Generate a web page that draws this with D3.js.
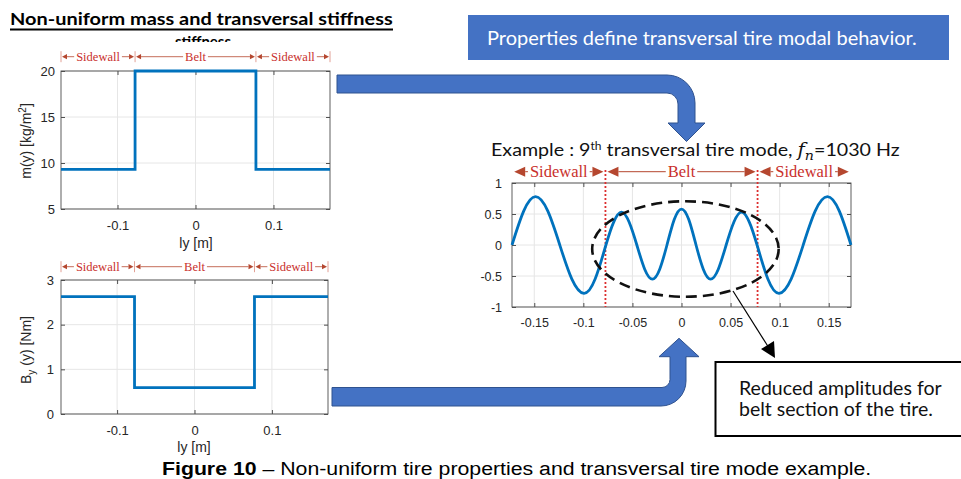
<!DOCTYPE html>
<html>
<head>
<meta charset="utf-8">
<script src="https://cdn.jsdelivr.net/npm/d3@7"></script>
<style>
  body { margin: 0; background: #fff; }
  svg { display: block; }
</style>
</head>
<body>
<svg id="fig" width="961" height="479"></svg>
<script>
// ---- Data -------------------------------------------------------------
// Lateral positions [m] of the section boundaries across the tire width
const sectionEdges = [-0.1725, -0.0775, 0.0775, 0.1725];
const sectionNames = ["Sidewall", "Belt", "Sidewall"];

// Mass per unit area m(y) [kg/m^2] per section
const massValues = [9.3, 20, 9.3];
// Transversal bending stiffness B_y(y) [Nm] per section
const stiffnessValues = [2.63, 0.59, 2.63];

const massTicks = [5, 10, 15, 20];
const stiffnessTicks = [0, 1, 2, 3];
const propertyXTicks = [-0.1, 0, 0.1];

// 9th transversal mode shape (normalized), sampled across the width
const modeX = [
  -0.1727, -0.1607, -0.1487, -0.1363, -0.1240, -0.1117, -0.0994, -0.0880,
  -0.0770, -0.0691, -0.0612, -0.0534, -0.0455, -0.0375, -0.0296, -0.0222,
  -0.0148, -0.0074, 0.0, 0.0074, 0.0148, 0.0222, 0.0296, 0.0375, 0.0455,
  0.0534, 0.0612, 0.0691, 0.0770, 0.0880, 0.0994, 0.1117, 0.1240, 0.1363,
  0.1487, 0.1607, 0.1727
];
const modeY = [
  0.0, 0.55, 0.78, 0.55, 0.0, -0.55, -0.78, -0.55,
  0.0, 0.37, 0.53, 0.37, 0.0, -0.39, -0.55, -0.39,
  0.0, 0.41, 0.58, 0.41, 0.0, -0.39, -0.55, -0.39, 0.0,
  0.37, 0.53, 0.37, 0.0, -0.55, -0.78, -0.55, 0.0, 0.55,
  0.78, 0.55, 0.0
];
const modeXTicks = [-0.15, -0.1, -0.05, 0, 0.05, 0.1, 0.15];
const modeYTicks = [-1, -0.5, 0, 0.5, 1];

// ---- Styling ----------------------------------------------------------
const SANS = "'Liberation Sans', Arial, sans-serif";
const SERIF = "'Liberation Serif', 'Times New Roman', serif";
const BODY = "Lato, 'Open Sans', sans-serif";
const LINE_BLUE = "#0072BD";
const AXIS_INK = "#262626";
const GRID = "#e6e6e6";
const NOTE_LINE = "#b5472f";
const NOTE_TEXT = "#c9302c";
const SHAPE_FILL = "#4472C4";
const SHAPE_EDGE = "#2F528F";

const svg = d3.select("#fig");

// Squeeze/stretch a text block horizontally so it spans a given width
function fitWidth(sel, x0, target) {
  const w = sel.node().getBBox().width;
  sel.attr("transform", `translate(${x0},0) scale(${target / w},1) translate(${-x0},0)`);
}

// MATLAB-style boxed axes with inward ticks on all four sides
function drawAxes(g, x, y, xTicks, yTicks, o) {
  const [x0, x1] = x.range();
  const [y0, y1] = y.range();
  const fmt = d => String(d);

  g.append("g").selectAll("line").data(xTicks).join("line")
    .attr("x1", d => x(d)).attr("x2", d => x(d))
    .attr("y1", y1).attr("y2", y0)
    .attr("stroke", GRID).attr("stroke-width", 1);
  g.append("g").selectAll("line").data(yTicks).join("line")
    .attr("x1", x0).attr("x2", x1)
    .attr("y1", d => y(d)).attr("y2", d => y(d))
    .attr("stroke", GRID).attr("stroke-width", 1);

  const style = a => {
    a.select(".domain").remove();
    a.attr("font-size", o.fontSize).attr("font-family", SANS);
    a.selectAll("line").attr("stroke", AXIS_INK).attr("stroke-width", 0.8);
    a.selectAll("text").attr("fill", AXIS_INK);
  };

  g.append("g").attr("transform", `translate(0,${y0})`)
    .call(d3.axisBottom(x).tickValues(xTicks).tickSizeInner(-4).tickSizeOuter(0)
      .tickPadding(o.xPad).tickFormat(fmt))
    .call(style);
  g.append("g").attr("transform", `translate(0,${y1})`)
    .call(d3.axisTop(x).tickValues(xTicks).tickSizeInner(-4).tickSizeOuter(0).tickFormat(""))
    .call(style);
  g.append("g").attr("transform", `translate(${x0},0)`)
    .call(d3.axisLeft(y).tickValues(yTicks).tickSizeInner(-4).tickSizeOuter(0)
      .tickPadding(o.yPad).tickFormat(fmt))
    .call(style);
  g.append("g").attr("transform", `translate(${x1},0)`)
    .call(d3.axisRight(y).tickValues(yTicks).tickSizeInner(-4).tickSizeOuter(0).tickFormat(""))
    .call(style);

  g.append("rect")
    .attr("x", x0).attr("y", y1).attr("width", x1 - x0).attr("height", y0 - y1)
    .attr("fill", "none").attr("stroke", "#4d4d4d").attr("stroke-width", 0.9);
}

// Sidewall / Belt span markers above a plot
function drawSections(g, x, yLine, o) {
  sectionNames.forEach((name, i) => {
    const a = x(sectionEdges[i]) + o.gap;
    const b = x(sectionEdges[i + 1]) - o.gap;
    const mid = (a + b) / 2;
    const t = g.append("text")
      .attr("x", mid).attr("y", yLine + o.baseOff)
      .attr("text-anchor", "middle")
      .attr("font-family", SERIF).attr("font-size", o.fontSize)
      .attr("fill", NOTE_TEXT).text(name);
    const w = t.node().getComputedTextLength();
    g.append("line")
      .attr("x1", a + o.head).attr("x2", mid - w / 2 - o.pad)
      .attr("y1", yLine).attr("y2", yLine)
      .attr("stroke", NOTE_LINE).attr("stroke-width", o.lw);
    g.append("line")
      .attr("x1", mid + w / 2 + o.pad).attr("x2", b - o.head)
      .attr("y1", yLine).attr("y2", yLine)
      .attr("stroke", NOTE_LINE).attr("stroke-width", o.lw);
    g.append("path")
      .attr("d", `M${a},${yLine}L${a + o.head},${yLine - o.half}L${a + o.head},${yLine + o.half}Z`)
      .attr("fill", NOTE_LINE);
    g.append("path")
      .attr("d", `M${b},${yLine}L${b - o.head},${yLine - o.half}L${b - o.head},${yLine + o.half}Z`)
      .attr("fill", NOTE_LINE);
  });
  if (o.bars) {
    g.append("g").selectAll("line").data(sectionEdges).join("line")
      .attr("x1", d => x(d)).attr("x2", d => x(d))
      .attr("y1", yLine - 5.5).attr("y2", yLine + 5.5)
      .attr("stroke", "#e2a095").attr("stroke-width", 1);
  }
}

function stepPoints(values) {
  const pts = values.map((v, i) => [sectionEdges[i], v]);
  pts.push([sectionEdges[sectionEdges.length - 1], values[values.length - 1]]);
  return pts;
}

// ---- Heading ----------------------------------------------------------
const title = svg.append("text")
  .attr("x", 10).attr("y", 25)
  .attr("font-family", BODY).attr("font-weight", 700).attr("font-size", 17)
  .attr("fill", "#000").text("Non-uniform mass and transversal stiffness");
fitWidth(title, 10, 383);
svg.append("line").attr("x1", 10).attr("x2", 393).attr("y1", 29.5).attr("y2", 29.5)
  .attr("stroke", "#000").attr("stroke-width", 1.8);

// second heading line, mostly covered by the panel annotations
svg.append("clipPath").attr("id", "headClip")
  .append("rect").attr("x", 150).attr("y", 35.5).attr("width", 120).attr("height", 6.5);
svg.append("text")
  .attr("clip-path", "url(#headClip)")
  .attr("x", 203).attr("y", 46.5).attr("text-anchor", "middle")
  .attr("font-family", BODY).attr("font-weight", 700).attr("font-size", 15)
  .attr("fill", "#000").text("stiffness");

// ---- Mass panel -------------------------------------------------------
const xMass = d3.scaleLinear().domain([-0.1725, 0.1725]).range([61, 330]);
const yMass = d3.scaleLinear().domain([5, 20]).range([209, 71]);
const gMass = svg.append("g");
drawAxes(gMass, xMass, yMass, propertyXTicks, massTicks, { fontSize: 13, xPad: 12, yPad: 6 });
gMass.append("path")
  .datum(stepPoints(massValues))
  .attr("d", d3.line().x(d => xMass(d[0])).y(d => yMass(d[1])).curve(d3.curveStepAfter))
  .attr("fill", "none").attr("stroke", LINE_BLUE).attr("stroke-width", 2.8);
drawSections(gMass, xMass, 56.7, { fontSize: 12.5, baseOff: 4, head: 5, half: 2.6, gap: 1, pad: 2, lw: 0.8, bars: true });
gMass.append("text").attr("x", 196).attr("y", 247.5).attr("text-anchor", "middle")
  .attr("font-family", SANS).attr("font-size", 14).attr("fill", AXIS_INK).text("ly [m]");
const mLabel = gMass.append("text")
  .attr("transform", "translate(31,141) rotate(-90)")
  .attr("text-anchor", "middle")
  .attr("font-family", SANS).attr("font-size", 14).attr("fill", AXIS_INK);
mLabel.append("tspan").text("m(y) [kg/m");
mLabel.append("tspan").attr("dy", -5).attr("font-size", 10).text("2");
mLabel.append("tspan").attr("dy", 5).text("]");

// ---- Stiffness panel --------------------------------------------------
const xStiff = d3.scaleLinear().domain([-0.1725, 0.1725]).range([61, 328]);
const yStiff = d3.scaleLinear().domain([0, 3]).range([414, 280]);
const gStiff = svg.append("g");
drawAxes(gStiff, xStiff, yStiff, propertyXTicks, stiffnessTicks, { fontSize: 13, xPad: 11.5, yPad: 7 });
gStiff.append("path")
  .datum(stepPoints(stiffnessValues))
  .attr("d", d3.line().x(d => xStiff(d[0])).y(d => yStiff(d[1])).curve(d3.curveStepAfter))
  .attr("fill", "none").attr("stroke", LINE_BLUE).attr("stroke-width", 2.8);
drawSections(gStiff, xStiff, 266.7, { fontSize: 12.5, baseOff: 4, head: 5, half: 2.6, gap: 1, pad: 2, lw: 0.8, bars: true });
gStiff.append("text").attr("x", 194).attr("y", 452).attr("text-anchor", "middle")
  .attr("font-family", SANS).attr("font-size", 14).attr("fill", AXIS_INK).text("ly [m]");
const bLabel = gStiff.append("text")
  .attr("transform", "translate(31,350) rotate(-90)")
  .attr("text-anchor", "middle")
  .attr("font-family", SANS).attr("font-size", 14).attr("fill", AXIS_INK);
bLabel.append("tspan").text("B");
bLabel.append("tspan").attr("dy", 4).attr("font-size", 10).text("y");
bLabel.append("tspan").attr("dy", -4).text(" (y) [Nm]");

// ---- Mode shape panel -------------------------------------------------
const xMode = d3.scaleLinear().domain([-0.1727, 0.1727]).range([512, 851]);
const yMode = d3.scaleLinear().domain([-1, 1]).range([307, 183]);
const gMode = svg.append("g");
drawAxes(gMode, xMode, yMode, modeXTicks, modeYTicks, { fontSize: 12.5, xPad: 11, yPad: 10 });

// section boundaries
gMode.append("g").selectAll("line").data(sectionEdges.slice(1, 3)).join("line")
  .attr("x1", d => xMode(d)).attr("x2", d => xMode(d))
  .attr("y1", 170).attr("y2", 307)
  .attr("stroke", "#dc2f2f").attr("stroke-width", 1.8).attr("stroke-dasharray", "2,2");

gMode.append("path")
  .datum(modeX.map((x, i) => [x, modeY[i]]))
  .attr("d", d3.line().x(d => xMode(d[0])).y(d => yMode(d[1])).curve(d3.curveNatural))
  .attr("fill", "none").attr("stroke", LINE_BLUE).attr("stroke-width", 2.8);

drawSections(gMode, xMode, 171.7, { fontSize: 16.5, baseOff: 5, head: 11, half: 5, gap: 2, pad: 2, lw: 1, bars: false });

// belt region highlight
const ringCx = 0.004, ringCy = -0.065, ringRx = 0.095, ringRy = 0.77;
gMode.append("ellipse")
  .attr("cx", xMode(ringCx)).attr("cy", yMode(ringCy))
  .attr("rx", xMode(ringCx + ringRx) - xMode(ringCx))
  .attr("ry", yMode(ringCy) - yMode(ringCy + ringRy))
  .attr("fill", "none").attr("stroke", "#111").attr("stroke-width", 2.6)
  .attr("stroke-dasharray", "11,6");

// mode title
const ex = svg.append("text").attr("x", 491).attr("y", 156.5)
  .attr("font-family", BODY).attr("font-size", 18).attr("fill", "#111");
ex.append("tspan").text("Example : 9");
ex.append("tspan").attr("dy", -6).attr("font-size", 11).text("th");
ex.append("tspan").attr("dy", 6).text(" transversal tire mode, ");
ex.append("tspan").attr("font-family", "'DejaVu Serif', serif").attr("font-style", "italic").text("f");
ex.append("tspan").attr("dy", 4).attr("font-family", "'DejaVu Serif', serif")
  .attr("font-style", "italic").attr("font-size", 13).text("n");
ex.append("tspan").attr("dy", -4).text("=1030 Hz");
fitWidth(ex, 491, 409);

// ---- Callouts ---------------------------------------------------------
svg.append("rect").attr("x", 468).attr("y", 15).attr("width", 481).attr("height", 45)
  .attr("fill", SHAPE_FILL);
const boxText = svg.append("text").attr("x", 487).attr("y", 45)
  .attr("font-family", BODY).attr("font-size", 19).attr("fill", "#fff")
  .text("Properties define transversal tire modal behavior.");
fitWidth(boxText, 487, 430);

// bent arrows linking the property plots to the mode example
svg.append("path")
  .attr("d", "M337,75 H667 A28,28 0 0 1 695,103 V123 H705 L686.5,141.5 L668,123 H678 V104 A11,11 0 0 0 667,93 H337 Z")
  .attr("fill", SHAPE_FILL).attr("stroke", SHAPE_EDGE).attr("stroke-width", 1);
svg.append("path")
  .attr("d", "M332,387.5 H662 A8,8 0 0 0 670,379.5 V356.7 H659 L679,338.3 L699,356.7 H686 V381 A25,25 0 0 1 661,406 H332 Z")
  .attr("fill", SHAPE_FILL).attr("stroke", SHAPE_EDGE).attr("stroke-width", 1);

// pointer from the highlighted belt region to the note
svg.append("line").attr("x1", 733).attr("y1", 291).attr("x2", 769).attr("y2", 348)
  .attr("stroke", "#000").attr("stroke-width", 1.2);
svg.append("path").attr("d", "M775,358 L761,349 L774,341 Z").attr("fill", "#000");

svg.append("rect").attr("x", 715.5).attr("y", 362).attr("width", 250).attr("height", 74)
  .attr("fill", "#fff").attr("stroke", "#000").attr("stroke-width", 2);
const n1 = svg.append("text").attr("x", 739).attr("y", 395)
  .attr("font-family", BODY).attr("font-size", 19).attr("fill", "#111")
  .text("Reduced amplitudes for");
fitWidth(n1, 739, 203);
const n2 = svg.append("text").attr("x", 739).attr("y", 416)
  .attr("font-family", BODY).attr("font-size", 19).attr("fill", "#111")
  .text("belt section of the tire.");
fitWidth(n2, 739, 194);

// ---- Caption ----------------------------------------------------------
const cap = svg.append("text").attr("x", 162).attr("y", 475)
  .attr("font-family", "'Liberation Sans Narrow', 'Arial Narrow', 'Liberation Sans', Arial, sans-serif")
  .attr("font-size", 19).attr("fill", "#000");
cap.append("tspan").attr("font-weight", 700).text("Figure 10");
cap.append("tspan").text(" \u2013 Non-uniform tire properties and transversal tire mode example.");
fitWidth(cap, 162, 710);
</script>
</body>
</html>
